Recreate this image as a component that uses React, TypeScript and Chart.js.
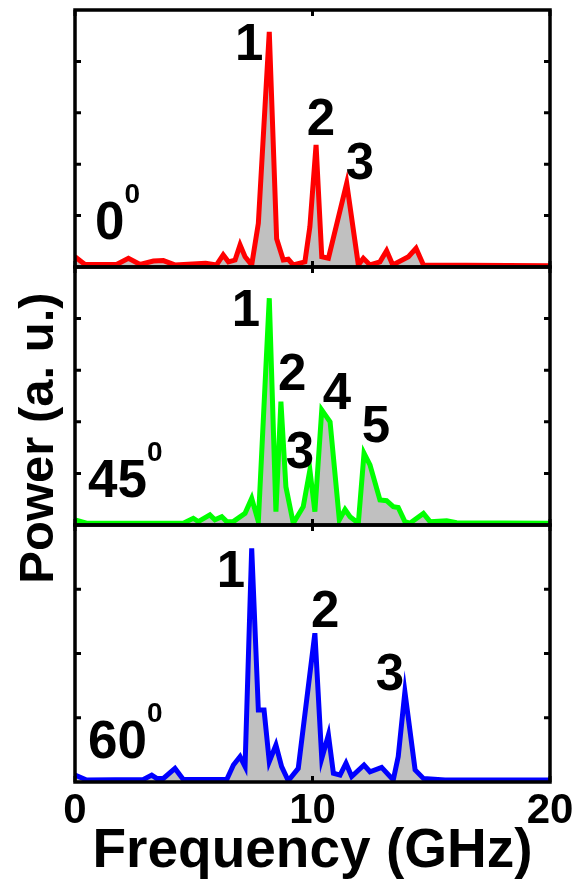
import React, { useEffect, useRef } from "react";
import { Chart, registerables } from "chart.js";

Chart.register(...registerables);

const W = 578;
const H = 879;
const PLOT_LEFT = 75;
const PLOT_RIGHT = 550;
const PANEL_EDGES = [10, 267, 525, 782];

// ---- data (frequency in GHz, power in a.u., normalized per panel) ----
const freq0 = [0, 0.42, 1.75, 2.25, 2.74, 3.3, 3.72, 4.2, 5.5, 5.96, 6.24, 6.46, 6.74, 6.95, 7.16, 7.44, 7.72, 8.18, 8.49, 8.77, 8.98, 9.19, 9.68, 9.89, 10.15, 10.39, 10.67, 11.44, 11.93, 12.14, 12.42, 12.84, 13.12, 13.38, 14.04, 14.36, 14.67, 20];
const power0 = [0.04, 0.01, 0.01, 0.034, 0.01, 0.023, 0.025, 0.008, 0.015, 0.008, 0.047, 0.02, 0.027, 0.086, 0.04, 0.008, 0.17, 0.915, 0.11, 0.027, 0.03, 0.008, 0.02, 0.157, 0.475, 0.04, 0.034, 0.326, 0.008, 0.034, 0.008, 0.02, 0.063, 0.008, 0.04, 0.073, 0.008, 0.005];

const freq45 = [0, 0.49, 4.56, 4.98, 5.19, 5.68, 5.89, 6.18, 6.39, 6.66, 7.16, 7.44, 7.72, 8.18, 8.46, 8.67, 8.88, 9.19, 9.61, 9.89, 10.1, 10.39, 10.74, 11.13, 11.37, 11.58, 11.93, 12.17, 12.42, 12.84, 13.12, 13.4, 13.61, 13.89, 14.1, 14.67, 14.95, 15.65, 16.07, 20];
const power45 = [0.02, 0.007, 0.007, 0.026, 0.013, 0.039, 0.02, 0.032, 0.013, 0.013, 0.045, 0.103, 0.013, 0.879, 0.052, 0.478, 0.148, 0.007, 0.071, 0.213, 0.052, 0.446, 0.4, 0.02, 0.06, 0.032, 0.007, 0.278, 0.233, 0.097, 0.094, 0.071, 0.068, 0.013, 0.007, 0.045, 0.013, 0.016, 0.009, 0.007];

const freq60 = [0, 0.49, 2.88, 3.23, 3.44, 3.72, 4.21, 4.56, 6.39, 6.67, 6.95, 7.16, 7.44, 7.72, 7.96, 8.18, 8.46, 8.7, 8.98, 9.4, 10.1, 10.39, 10.67, 10.88, 11.16, 11.41, 11.65, 12.17, 12.42, 12.91, 13.4, 13.61, 13.89, 14.32, 14.67, 15.58, 20];
const power60 = [0.027, 0.008, 0.01, 0.027, 0.014, 0.014, 0.053, 0.01, 0.01, 0.066, 0.099, 0.06, 0.909, 0.28, 0.28, 0.079, 0.144, 0.06, 0.005, 0.053, 0.579, 0.092, 0.183, 0.034, 0.027, 0.073, 0.021, 0.066, 0.04, 0.057, 0.008, 0.099, 0.351, 0.047, 0.014, 0.008, 0.008];

const seriesColors = ["#ff0000", "#00ff00", "#0000ff"];
const fillColor = "#c0c0c0";

const xTickValues = [0, 10, 20];
const xTickLabels = ["0", "10", "20"];
const yTickSteps = [0.2, 0.2, 0.25];

const angleTexts = ["0", "45", "60"];
const angleX = [0.84, 0.55, 0.55];
const angleY = [0.109, 0.109, 0.093];

const peakText0 = ["1", "2", "3"];
const peakX0 = [7.33, 10.36, 12.0];
const peakY0 = [0.86, 0.568, 0.397];

const peakText45 = ["1", "2", "3", "4", "5"];
const peakX45 = [7.2, 9.14, 9.47, 11.03, 12.67];
const peakY45 = [0.826, 0.578, 0.275, 0.504, 0.376];

const peakText60 = ["1", "2", "3"];
const peakX60 = [6.57, 10.53, 13.26];
const peakY60 = [0.813, 0.658, 0.412];

const xTitle = "Frequency (GHz)";
const yTitle = "Power (a. u.)";

const FONT = '"Liberation Sans", Arial, Helvetica, sans-serif';

const panels = [
  { freq: freq0, power: power0, peaksT: peakText0, peaksX: peakX0, peaksY: peakY0 },
  { freq: freq45, power: power45, peaksT: peakText45, peaksX: peakX45, peaksY: peakY45 },
  { freq: freq60, power: power60, peaksT: peakText60, peaksX: peakX60, peaksY: peakY60 },
];

function makePlugin(i: number) {
  return {
    id: "decor" + i,
    afterDatasetsDraw(chart: any) {
      const ctx = chart.ctx as CanvasRenderingContext2D;
      const xs = chart.scales.x;
      const ys = chart.scales.y;
      const { left, right, top, bottom } = chart.chartArea;
      const p = panels[i];
      ctx.save();
      ctx.fillStyle = "#000";

      // peak labels
      ctx.font = `bold 51px ${FONT}`;
      ctx.textAlign = "center";
      ctx.textBaseline = "middle";
      p.peaksT.forEach((t, k) => {
        ctx.fillText(t, xs.getPixelForValue(p.peaksX[k]), ys.getPixelForValue(p.peaksY[k]));
      });

      // angle label with superscript
      ctx.textAlign = "left";
      ctx.textBaseline = "alphabetic";
      const ax = xs.getPixelForValue(angleX[i]);
      const ay = ys.getPixelForValue(angleY[i]);
      ctx.font = `bold 53px ${FONT}`;
      ctx.fillText(angleTexts[i], ax, ay);
      const w = ctx.measureText(angleTexts[i]).width;
      ctx.font = `bold 28px ${FONT}`;
      ctx.fillText("0", ax + w, ay - 36);

      // frame
      ctx.strokeStyle = "#000";
      ctx.lineWidth = 3.5;
      ctx.strokeRect(left, top, right - left, bottom - top);

      // inward ticks
      const step = yTickSteps[i];
      ctx.lineWidth = 3;
      ctx.beginPath();
      for (let v = step; v < 1 - 1e-6; v += step) {
        const py = ys.getPixelForValue(v);
        ctx.moveTo(left, py);
        ctx.lineTo(left + 6, py);
        ctx.moveTo(right, py);
        ctx.lineTo(right - 6, py);
      }
      xTickValues.forEach((xv) => {
        const px = xs.getPixelForValue(xv);
        ctx.moveTo(px, top);
        ctx.lineTo(px, top + 6);
        ctx.moveTo(px, bottom);
        ctx.lineTo(px, bottom - 6);
      });
      ctx.stroke();

      if (i === 2) {
        ctx.textAlign = "center";
        ctx.textBaseline = "alphabetic";
        ctx.font = `bold 42px ${FONT}`;
        xTickValues.forEach((xv, k) => {
          ctx.fillText(xTickLabels[k], xs.getPixelForValue(xv), bottom + 41);
        });
        ctx.font = `bold 55px ${FONT}`;
        ctx.fillText(xTitle, (left + right) / 2, bottom + 85);
      }
      if (i === 1) {
        ctx.translate(53, 438);
        ctx.rotate(-Math.PI / 2);
        ctx.textAlign = "center";
        ctx.textBaseline = "alphabetic";
        ctx.font = `bold 49px ${FONT}`;
        ctx.fillText(yTitle, 0, 0);
      }
      ctx.restore();
    },
  };
}

function Panel({ index }: { index: number }) {
  const ref = useRef<HTMLCanvasElement | null>(null);
  useEffect(() => {
    if (!ref.current) return;
    const p = panels[index];
    const top = PANEL_EDGES[index];
    const bottom = PANEL_EDGES[index + 1];
    const chart = new Chart(ref.current, {
      type: "line",
      data: {
        datasets: [
          {
            data: p.freq.map((f, k) => ({ x: f, y: p.power[k] })),
            borderColor: seriesColors[index],
            backgroundColor: fillColor,
            borderWidth: 5,
            fill: "origin",
            pointRadius: 0,
            tension: 0,
          },
        ],
      },
      options: {
        animation: false,
        responsive: false,
        devicePixelRatio: 1,
        layout: {
          padding: { left: PLOT_LEFT, right: W - PLOT_RIGHT, top, bottom: H - bottom },
        },
        scales: {
          x: { type: "linear", min: 0, max: 20, display: false },
          y: { type: "linear", min: 0, max: 1, display: false },
        },
        plugins: { legend: { display: false }, tooltip: { enabled: false } },
      },
      plugins: [makePlugin(index)],
    } as any);
    return () => chart.destroy();
  }, [index]);
  return (
    <canvas
      ref={ref}
      width={W}
      height={H}
      style={{ position: "absolute", left: 0, top: 0, width: W, height: H }}
    />
  );
}

export default function App() {
  return (
    <div style={{ position: "absolute", left: 0, top: 0, width: W, height: H, background: "#fff" }}>
      <Panel index={0} />
      <Panel index={1} />
      <Panel index={2} />
    </div>
  );
}
